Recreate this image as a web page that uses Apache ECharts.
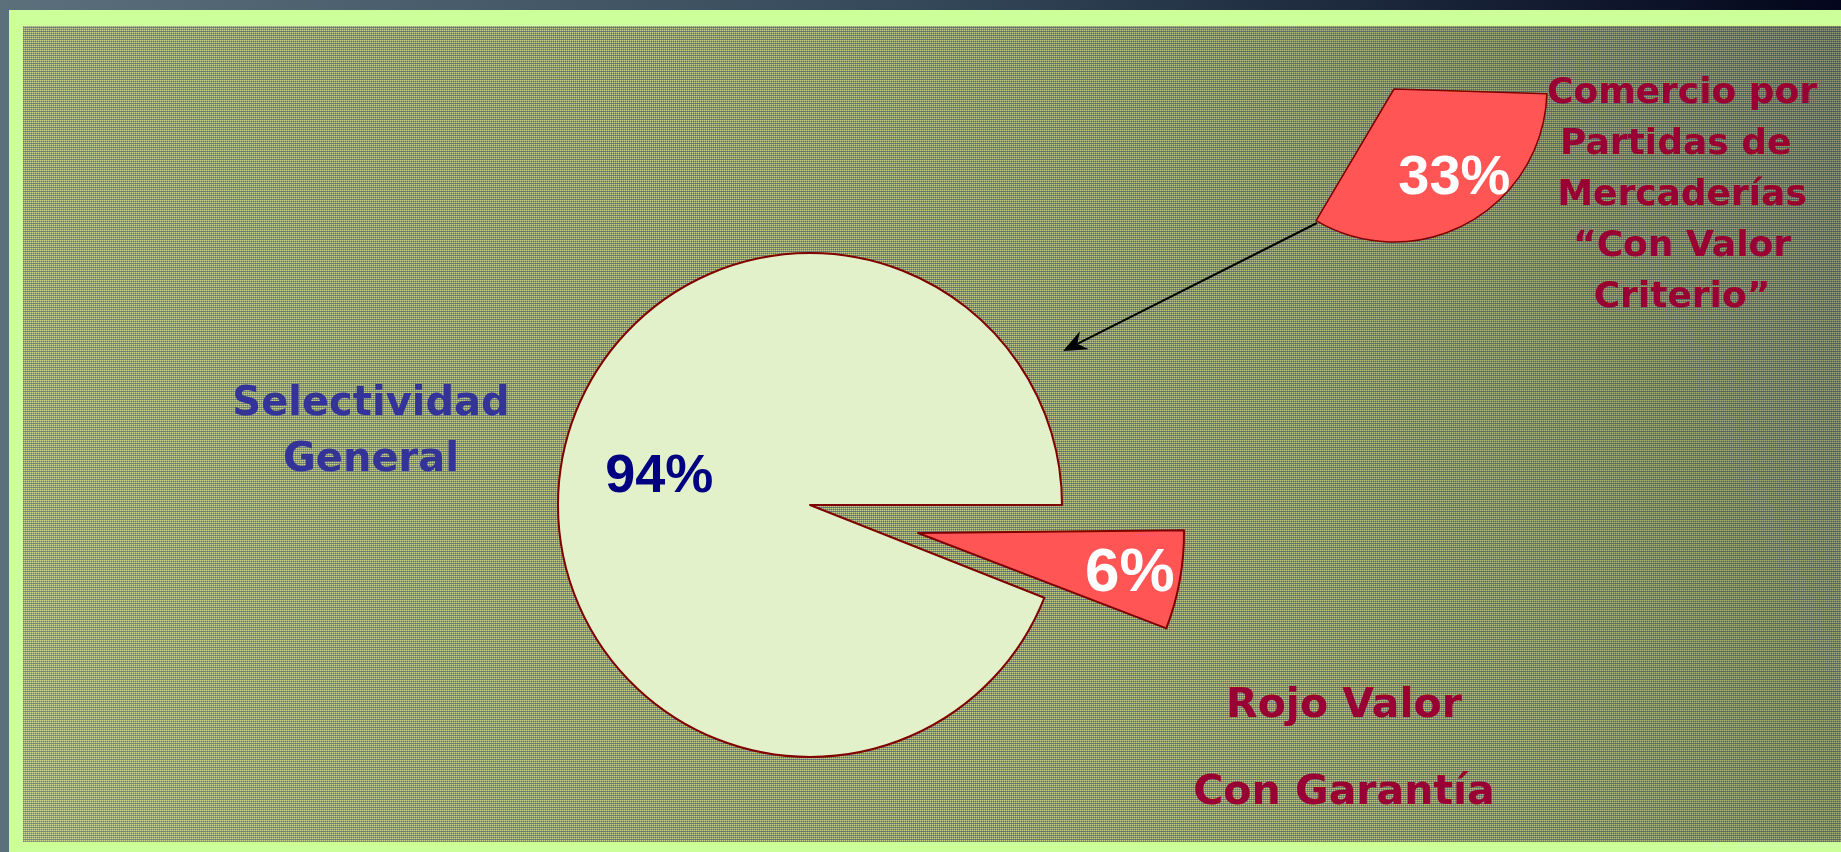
<!DOCTYPE html>
<html>
<head>
<meta charset="utf-8">
<title>Selectividad</title>
<script src="https://cdn.jsdelivr.net/npm/echarts@6/dist/echarts.min.js"></script>
<style>
  html, body { margin: 0; padding: 0; }
  #main { width: 1841px; height: 852px; }
</style>
</head>
<body>
<div id="main"></div>
<script>
// datos
var mainNames = ['Rojo Valor Con Garantía', 'Selectividad General'];
var mainValues = [6, 94];
var subNames = ['Comercio por Partidas de Mercaderías “Con Valor Criterio”', 'Resto'];
var subValues = [33, 67];

var chart = echarts.init(document.getElementById('main'));

// textura cuadriculada del fondo
var tex = document.createElement('canvas');
tex.width = 4; tex.height = 4;
var ctx = tex.getContext('2d');
for (var y = 0; y < 4; y++) {
  for (var x = 0; x < 4; x++) {
    var c = '#98a27e';
    if (x % 2 === 0 && y % 2 === 0) c = '#cbcf82';
    else if (x % 2 === 1 && y % 2 === 1) c = '#5b6988';
    else if (y === 3) c = '#6f7d86';
    ctx.fillStyle = c;
    ctx.fillRect(x, y, 1, 1);
  }
}

var hidden = { color: 'rgba(0,0,0,0)', borderWidth: 0 };
var border = { borderColor: '#800000', borderWidth: 2 };
var pctFont = { show: true, position: 'inside', fontFamily: '"Liberation Sans", Arial', fontWeight: 'bold',
  formatter: function (p) { return p.value + '%'; } };

// flecha
var a0 = [1317, 223], a1 = [1063, 351];
var len = Math.hypot(a1[0] - a0[0], a1[1] - a0[1]);
var u = [(a1[0] - a0[0]) / len, (a1[1] - a0[1]) / len];
var n = [-u[1], u[0]];
var head = [
  a1,
  [a1[0] - 24 * u[0] + 10 * n[0], a1[1] - 24 * u[1] + 10 * n[1]],
  [a1[0] - 16 * u[0], a1[1] - 16 * u[1]],
  [a1[0] - 24 * u[0] - 10 * n[0], a1[1] - 24 * u[1] - 10 * n[1]]
];

var option = {
  animation: false,
  backgroundColor: {
    type: 'linear', x: 0, y: 0, x2: 1, y2: 0,
    colorStops: [{ offset: 0, color: '#5b707b' }, { offset: 0.5, color: '#34485a' }, { offset: 1, color: '#03061c' }]
  },
  graphic: [
    { type: 'rect', z: -100, shape: { x: 9, y: 10, width: 1832, height: 842 }, style: { fill: '#ccff99' } },
    { type: 'rect', z: -99, shape: { x: 23, y: 26, width: 1818, height: 816 }, style: { fill: { image: tex, repeat: 'repeat' } } },
    { type: 'rect', z: -98, shape: { x: 23, y: 26, width: 1818, height: 816 },
      style: { fill: { type: 'linear', x: 0, y: 1, x2: 1, y2: 0,
        colorStops: [{ offset: 0, color: 'rgba(225,232,195,0.18)' }, { offset: 0.45, color: 'rgba(120,130,100,0.03)' }, { offset: 1, color: 'rgba(20,28,48,0.32)' }] } } },
    { type: 'line', z: 100, shape: { x1: a0[0], y1: a0[1], x2: a1[0] - 16 * u[0], y2: a1[1] - 16 * u[1] },
      style: { stroke: '#000', lineWidth: 2 } },
    { type: 'polygon', z: 100, shape: { points: head }, style: { fill: '#000' } },
    { type: 'text', z: 100, x: 371, y: 433,
      style: { text: 'Selectividad\nGeneral', font: 'bold 40px "DejaVu Sans"', lineHeight: 56,
        fill: '#333399', align: 'center', verticalAlign: 'middle' } },
    { type: 'text', z: 100, x: 1344, y: 750,
      style: { text: 'Rojo Valor\nCon Garantía', font: 'bold 41px "DejaVu Sans"', lineHeight: 87,
        fill: '#990033', align: 'center', verticalAlign: 'middle' } },
    { type: 'text', z: 100, x: 1682, y: 196,
      style: { text: 'Comercio por\nPartidas de \nMercaderías\n“Con Valor\nCriterio”', font: 'bold 36px "DejaVu Sans"',
        lineHeight: 51, fill: '#990033', align: 'center', verticalAlign: 'middle',
        shadowColor: 'rgba(215,215,215,0.9)', shadowOffsetX: 2, shadowOffsetY: 2 } }
  ],
  series: [
    {
      type: 'pie', silent: true, center: [810, 505], radius: 252, startAngle: 0, clockwise: true,
      labelLine: { show: false },
      data: [
        { name: mainNames[0], value: mainValues[0], itemStyle: hidden, label: { show: false } },
        { name: mainNames[1], value: mainValues[1], itemStyle: Object.assign({ color: '#e2f1ca' }, border),
          label: Object.assign({}, pctFont, { color: '#000080', fontSize: 54 }) }
      ],
      labelLayout: { dx: -24, dy: -4 }
    },
    {
      type: 'pie', silent: true, center: [918, 533], radius: 266, startAngle: 0.6, clockwise: true,
      labelLine: { show: false },
      data: [
        { name: mainNames[0], value: mainValues[0], itemStyle: Object.assign({ color: '#ff5555' }, border),
          label: Object.assign({}, pctFont, { color: '#ffffff', fontSize: 62 }) },
        { name: mainNames[1], value: mainValues[1], itemStyle: hidden, label: { show: false } }
      ],
      labelLayout: { dx: 78, dy: 17 }
    },
    {
      type: 'pie', silent: true, center: [1394, 89], radius: 153, startAngle: 358.2, clockwise: true,
      labelLine: { show: false },
      data: [
        { name: subNames[0], value: subValues[0], itemStyle: Object.assign({ color: '#ff5555' }, border, { borderWidth: 1.5 }),
          label: Object.assign({}, pctFont, { color: '#ffffff', fontSize: 56 }) },
        { name: subNames[1], value: subValues[1], itemStyle: hidden, label: { show: false } }
      ],
      labelLayout: { dx: 22, dy: 20 }
    }
  ]
};

chart.setOption(option);
</script>
</body>
</html>
